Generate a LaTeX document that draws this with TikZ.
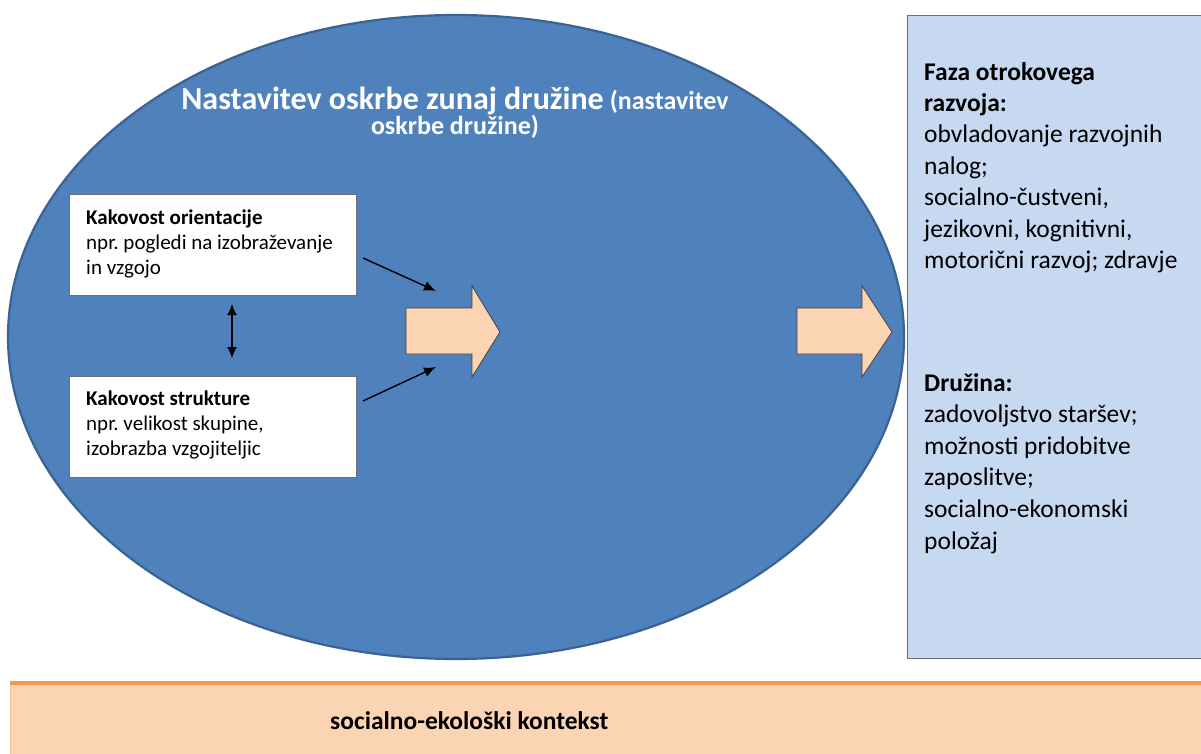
\documentclass[tikz,border=0pt]{standalone}
\usepackage{fontspec}
\setmainfont{Carlito}
\usetikzlibrary{arrows.meta,calc,shapes.geometric}
\definecolor{ellfill}{HTML}{4F81BD}
\definecolor{elldraw}{HTML}{3A6293}
\definecolor{peach}{HTML}{FBD4B4}
\definecolor{bandline}{HTML}{F79646}
\definecolor{boxblue}{HTML}{C6D9F0}
\definecolor{boxline}{HTML}{6E6E6E}
\tikzset{
  wbox/.style={draw=boxline, line width=1pt, fill=white, minimum width=287pt, minimum height=101pt,
    inner sep=0pt, anchor=north west},
  wtext/.style={anchor=west, align=left, inner sep=0pt, font=\fontsize{21}{25}\selectfont},
  blockarrow/.style={draw=black!75, line width=0.8pt, fill=peach},
  thinarrow/.style={line width=1.4pt, -{Latex[length=12pt,width=10pt]}},
  dblarrow/.style={line width=1.4pt, {Latex[length=11pt,width=10pt]}-{Latex[length=11pt,width=10pt]}},
  sidetext/.style={anchor=north west, align=left, inner sep=0pt}
}
\begin{document}
\frenchspacing
\begin{tikzpicture}[x=1pt,y=-1pt]
\useasboundingbox (0,0) rectangle (1201,754);
\fill[white] (0,0) rectangle (1201,754);
% ellipse
\node[ellipse, draw=elldraw, line width=2.2pt, fill=ellfill, minimum width=896pt, minimum height=644pt, inner sep=0pt] (ell) at (456,337) {};
% title
\node[text=white, align=center, inner sep=0pt, anchor=base] (title) at (455,135)
  {{\fontsize{32}{33}\selectfont\bfseries Nastavitev oskrbe zunaj družine}\hspace{6pt}{\fontsize{26}{33}\selectfont\bfseries (nastavitev}\\
   {\fontsize{26}{33}\selectfont\bfseries oskrbe družine)}};
% left boxes
\node[wbox] (orient) at (69,194) {};
\node[wtext] (orientt) at ($(orient.west)+(17,-1)$) {\textbf{Kakovost orientacije}\\ npr. pogledi na izobraževanje\\ in vzgojo};
\node[wbox] (struct) at (69,376) {};
\node[wtext] (structt) at ($(struct.west)+(17,-2)$) {\textbf{Kakovost strukture}\\ npr. velikost skupine,\\ izobrazba vzgojiteljic};
% block arrows
\draw[blockarrow] (406,308) -- (472,308) -- (472,286) -- (500,332) -- (472,377) -- (472,354) -- (406,354) -- cycle;
\draw[blockarrow] (797,308) -- (862,308) -- (862,286) -- (892,332) -- (862,377) -- (862,354) -- (797,354) -- cycle;
\coordinate (a1s) at (363,258);
\coordinate (a1e) at (436,291);
\coordinate (a2s) at (363,401);
\coordinate (a2e) at (436,367);
\coordinate (d1) at (232,304);
\coordinate (d2) at (232,358);
\draw[thinarrow] (a1s) -- (a1e);
\draw[thinarrow] (a2s) -- (a2e);
\draw[dblarrow] (d1) -- (d2);
% right box
\node[draw=boxline, line width=1.2pt, fill=boxblue, anchor=north west, minimum width=320pt, minimum height=643pt, inner sep=0pt] (rbox) at (907,15) {};
\node[sidetext, font=\fontsize{25.5}{31.4}\selectfont] (faza) at (924,62) {\textbf{Faza otrokovega}\\ \textbf{razvoja:}\\ obvladovanje razvojnih\\ nalog;\\ socialno-čustveni,\\ jezikovni, kognitivni,\\ motorični razvoj; zdravje};
\node[sidetext, font=\fontsize{25.5}{31.6}\selectfont] (druz) at (924,373) {\textbf{Družina:}\\ zadovoljstvo staršev;\\ možnosti pridobitve\\ zaposlitve;\\ socialno-ekonomski\\ položaj};
% bottom band
\fill[peach] (10,683) rectangle (1220,770);
\draw[bandline!60, line width=1pt] (10.5,683) -- (10.5,770);
\draw[bandline, line width=4pt] (10,683) -- (1220,683);
\node[anchor=base west, inner sep=0pt, font=\fontsize{25.5}{30}\selectfont\bfseries] (ctx) at (330,729) {socialno-ekološki kontekst};
\end{tikzpicture}
\end{document}
